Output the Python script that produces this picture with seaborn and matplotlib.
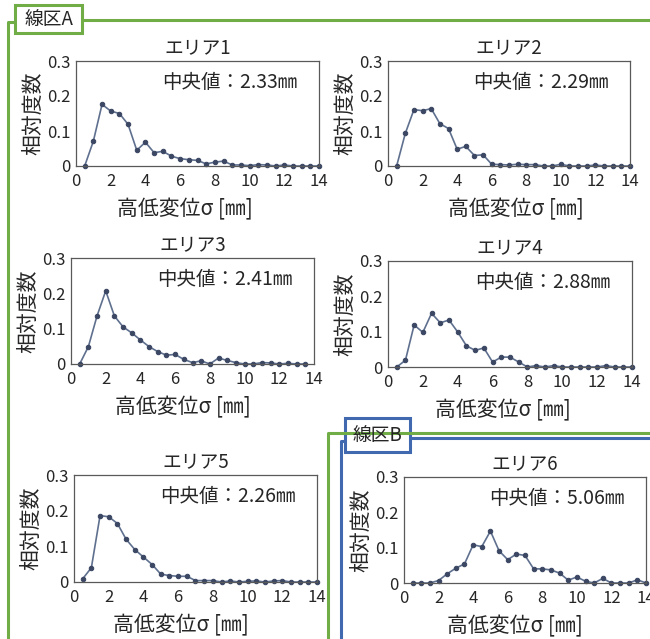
import matplotlib
matplotlib.use("Agg")
import matplotlib.pyplot as plt
import seaborn as sns
import pandas as pd
from matplotlib.lines import Line2D
from matplotlib.patches import Rectangle

# 高低変位 sigma [mm] (class centres)
sigma = [0.5, 1.0, 1.5, 2.0, 2.5, 3.0, 3.5, 4.0, 4.5, 5.0, 5.5, 6.0, 6.5, 7.0,
         7.5, 8.0, 8.5, 9.0, 9.5, 10.0, 10.5, 11.0, 11.5, 12.0, 12.5, 13.0, 13.5, 14.0]

area1 = [0, 0.071, 0.176, 0.157, 0.150, 0.119, 0.045, 0.068, 0.038, 0.042, 0.028, 0.021, 0.018, 0.016,
         0.006, 0.011, 0.014, 0.003, 0.003, 0.001, 0.004, 0.003, 0, 0.003, 0, 0, 0, 0]
area2 = [0, 0.093, 0.161, 0.158, 0.164, 0.121, 0.107, 0.048, 0.056, 0.030, 0.032, 0.005, 0.004, 0.003,
         0.005, 0.004, 0.004, 0, 0, 0.005, 0, 0, 0, 0.003, 0, 0, 0, 0]
area3 = [0, 0.049, 0.136, 0.207, 0.136, 0.105, 0.088, 0.068, 0.049, 0.035, 0.025, 0.027, 0.013, 0.004,
         0.009, 0, 0.017, 0.010, 0.004, 0, 0, 0.004, 0.003, 0, 0.002, 0, 0]
area4 = [0, 0.019, 0.119, 0.098, 0.152, 0.125, 0.133, 0.099, 0.060, 0.047, 0.054, 0.014, 0.028, 0.028,
         0.014, 0, 0.004, 0, 0.004, 0, 0, 0, 0, 0, 0.004, 0, 0, 0]
area5 = [0.009, 0.040, 0.186, 0.183, 0.164, 0.120, 0.091, 0.070, 0.049, 0.022, 0.018, 0.016, 0.016, 0.004,
         0.004, 0.004, 0, 0.003, 0, 0.002, 0.003, 0, 0.003, 0.004, 0, 0, 0, 0]
area6 = [0, 0, 0, 0.007, 0.026, 0.042, 0.054, 0.108, 0.103, 0.147, 0.091, 0.066, 0.082, 0.078,
         0.040, 0.040, 0.037, 0.028, 0.008, 0.017, 0.005, 0, 0.013, 0, 0, 0, 0.009, 0]

titles = ["エリア1", "エリア2", "エリア3", "エリア4", "エリア5", "エリア6"]
medians = ["2.33", "2.29", "2.41", "2.88", "2.26", "5.06"]
series = [area1, area2, area3, area4, area5, area6]

sns.set_style("white")
plt.rcParams['font.family'] = ['Noto Sans CJK JP', 'DejaVu Sans']

W, H = 650, 639
fig = plt.figure(figsize=(6.5, 6.39), dpi=100)

# axes boxes in pixels: left, top, right, bottom
boxes = [
    (76, 61, 319, 166),
    (388, 61, 630, 166),
    (71, 258, 314, 364),
    (388, 261, 632, 367),
    (74, 475, 317, 582),
    (404, 477, 646, 583),
]
# x position of each x-axis label (axes fraction)
xlabel_x = [0.45, 0.53, 0.46, 0.47, 0.44, 0.46]

line_col = "#5f708f"
dot_col = "#3b4763"

for i, (l, t, r, b) in enumerate(boxes):
    ax = fig.add_axes([l / W, 1 - b / H, (r - l) / W, (b - t) / H])
    vals = series[i]
    df = pd.DataFrame({"sigma": sigma[:len(vals)], "freq": vals})
    sns.lineplot(data=df, x="sigma", y="freq", ax=ax, color=line_col, lw=1.2,
                 marker="o", markersize=3.2, markerfacecolor=dot_col,
                 markeredgecolor=dot_col, clip_on=False)
    ax.set_xlim(0, 14)
    ax.set_ylim(0, 0.3)
    ax.set_xticks([0, 2, 4, 6, 8, 10, 12, 14])
    ax.set_yticks([0, 0.1, 0.2, 0.3])
    ax.set_yticklabels(["0", "0.1", "0.2", "0.3"])
    ax.set_yticks([0.05, 0.15, 0.25], minor=True)
    ax.tick_params(axis="x", length=0, labelsize=12, pad=5)
    ax.tick_params(axis="y", which="both", direction="in", length=3, labelsize=12,
                   pad=4, color="#595959")
    for sp in ax.spines.values():
        sp.set_color("#595959")
        sp.set_linewidth(0.9)
    ax.set_title(titles[i], fontsize=13.5, pad=5)
    ax.set_xlabel("高低変位σ [㎜]", fontsize=15, labelpad=6)
    ax.xaxis.label.set_x(xlabel_x[i])
    ax.set_ylabel("相対度数", fontsize=15, labelpad=2)
    ax.text(0.91, 0.80, "中央値：" + medians[i] + "㎜", transform=ax.transAxes,
            ha="right", va="center", fontsize=14)


def px_line(xs, ys, color, lw):
    fig.add_artist(Line2D([x / W for x in xs], [1 - y / H for y in ys],
                          transform=fig.transFigure, color=color, lw=lw))


def px_label(l, t, r, b, text, color):
    fig.add_artist(Rectangle((l / W, 1 - b / H), (r - l) / W, (b - t) / H,
                             transform=fig.transFigure, facecolor="white",
                             edgecolor=color, lw=2.2))
    fig.text((l + r) / 2 / W, 1 - (t + b) / 2 / H, text, ha="center", va="center",
             fontsize=13.5)


green = "#70ad47"
blue = "#4169b0"

# 線区A frame (L shape)
px_line([650, 82], [20, 20], green, 2.2)
px_line([15, 8, 8], [22, 22, 639], green, 2.2)
px_line([650, 328, 328], [433, 433, 639], green, 2.2)
px_label(15, 5, 82, 33, "線区A", green)

# 線区B frame
px_line([650, 410], [438, 438], blue, 2.2)
px_line([345, 341, 341], [441, 441, 639], blue, 2.2)
px_label(345, 418, 410, 452, "線区B", blue)

fig.savefig("out.png", dpi=100)
